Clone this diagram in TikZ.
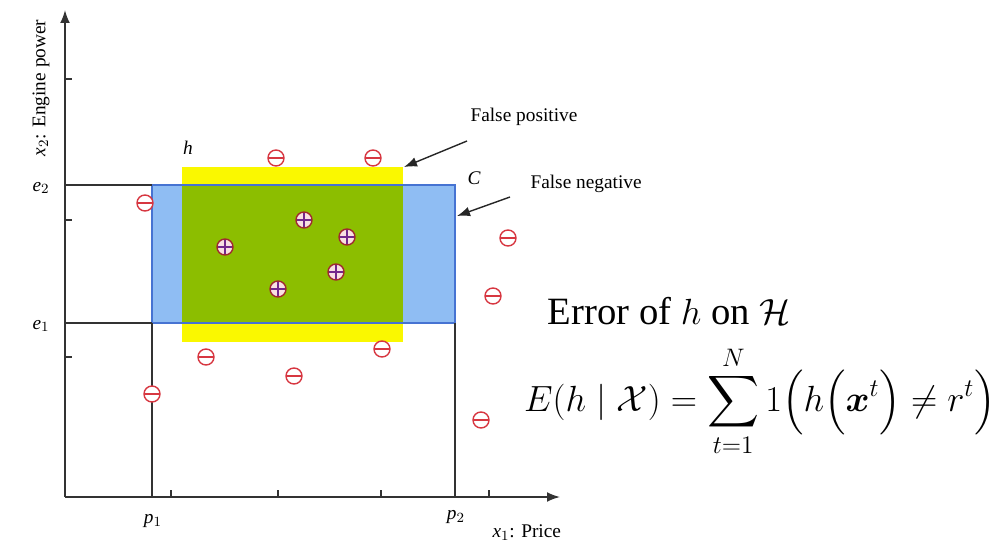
\documentclass[tikz,border=0pt]{standalone}
\usepackage{amsmath}
\usepackage{amssymb}
\usepackage{fontspec}
\setmainfont{Liberation Serif}
\usetikzlibrary{arrows.meta}
\definecolor{azulC}{RGB}{143,189,243}
\definecolor{bordeC}{RGB}{70,115,210}
\definecolor{verdeH}{RGB}{140,190,0}
\definecolor{amarilloH}{RGB}{250,248,0}
\definecolor{rojoM}{RGB}{215,55,65}
\definecolor{moradoP}{RGB}{115,40,140}
\tikzset{
  negativo/.style={circle,draw=rojoM,fill=white,line width=0.8pt,minimum size=0.32cm,inner sep=0pt,
    path picture={\draw[rojoM,line width=1pt] (path picture bounding box.west) -- (path picture bounding box.east);}},
  positivo/.style={circle,draw=rojoM!75!black,fill=white!85!rojoM,line width=0.8pt,minimum size=0.32cm,inner sep=0pt,
    path picture={\draw[moradoP,line width=0.7pt] (path picture bounding box.west) -- (path picture bounding box.east)
      (path picture bounding box.north) -- (path picture bounding box.south);}},
  etiq/.style={font=\fontsize{11}{13}\selectfont\itshape,inner sep=1pt},
  texto/.style={font=\fontsize{11}{13}\selectfont,inner sep=1pt},
}
\begin{document}
\begin{tikzpicture}[x=0.02cm,y=-0.02cm,line width=0.9pt,>={Latex[length=2.6mm]}]
  \useasboundingbox (0,0) rectangle (1002,548);
  % regiones h y C
  \fill[amarilloH] (182,167) rectangle (403,342);
  \fill[azulC] (152,185) rectangle (455,323);
  \fill[verdeH] (182,185) rectangle (403,323);
  \draw[bordeC,line width=0.8pt] (152,185) rectangle (455,323);
  % ejes
  \coordinate (O) at (65,497);
  \coordinate (ytop) at (65,10);
  \coordinate (xend) at (560,497);
  \draw[black!80,->] (O) -- (ytop);
  \draw[black!80,->] (O) -- (xend);
  \foreach \y in {79,220,357} \draw[black!80] (65,\y) -- (72,\y);
  \foreach \x in {171,278,381,489} \draw[black!80] (\x,497) -- (\x,490);
  % limites de C
  \draw[black!80] (65,185) -- (152,185);
  \draw[black!80] (65,323) -- (152,323);
  \draw[black!80] (152,497) -- (152,323);
  \draw[black!80] (455,497) -- (455,323);
  \node[etiq] (e2) at (41,188) {e$_2$};
  \node[etiq] (e1) at (41,326) {e$_1$};
  \node[etiq] (p1) at (153,521) {p$_1$};
  \node[etiq] (p2) at (456,517) {p$_2$};
  \node[texto,anchor=west] (x1) at (490,533) {\textit{x$_1$}: Price};
  \node[texto,rotate=90] (x2) at (41,88) {\textit{x$_2$}: Engine power};
  \node[etiq] (h) at (188,148) {h};
  \node[etiq] (C) at (474,178) {C};
  % ejemplos negativos y positivos
  \foreach \x/\y [count=\i] in {276/158,373/158,145/203,508/238,493/296,206/357,294/376,382/349,152/394,481/420}
    \node[negativo] (m\i) at (\x,\y) {};
  \foreach \x/\y [count=\i] in {225/247,304/220,347/237,336/272,278/289}
    \node[positivo] (q\i) at (\x,\y) {};
  % flechas de error
  \node[texto,anchor=west] (fp) at (468,117) {False positive};
  \node[texto,anchor=west] (fn) at (528,184) {False negative};
  \coordinate (fpa) at (467,141);
  \coordinate (fpb) at (404,167);
  \coordinate (fna) at (510,197);
  \coordinate (fnb) at (457,216);
  \draw[black!85,line width=0.8pt,->] (fpa) -- (fpb);
  \draw[black!85,line width=0.8pt,->] (fna) -- (fnb);
  % error de h
  \node[font=\fontsize{22}{26}\selectfont,anchor=west,inner sep=0pt] (err) at (547,311) {Error of $h$ on $\mathcal{H}$};
  \node[font=\fontsize{20.5}{24}\selectfont,inner sep=0pt] (eq) at (760,401)
    {$\displaystyle E(h\mid\mathcal{X})=\sum_{t=1}^{N}1\Bigl(h\Bigl(\boldsymbol{x}^{t}\Bigr)\neq r^{t}\Bigr)$};
\end{tikzpicture}
\end{document}
